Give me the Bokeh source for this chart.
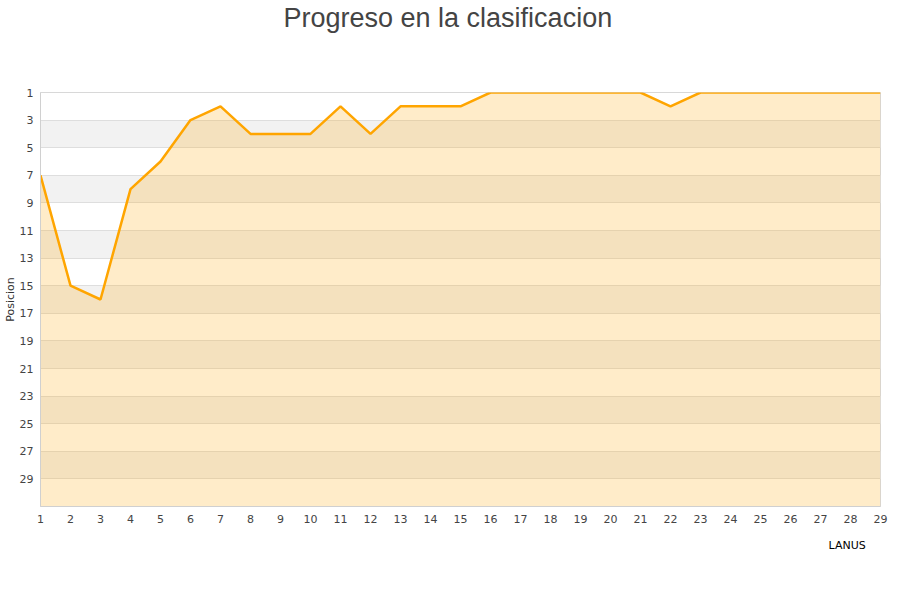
from bokeh.plotting import figure
from bokeh.models import Range1d, FixedTicker, ColumnDataSource, Title
from bokeh.embed import file_html
from bokeh.resources import INLINE

title_text = "Progreso en la clasificacion"
y_label = "Posicion"
team = "LANUS"
jornadas = list(range(1, 30))
posiciones = [7, 15, 16, 8, 6, 3, 2, 4, 4, 4, 2, 4, 2, 2, 2, 1, 1, 1, 1, 1, 1, 2, 1, 1, 1, 1, 1, 1, 1]
y_ticks = list(range(1, 30, 2))
x_ticks = list(range(1, 30))
y_top, y_bottom = 1, 31

p = figure(width=900, height=600, frame_width=840, frame_height=414,
           output_backend="svg", toolbar_location=None,
           x_range=Range1d(x_ticks[0], x_ticks[-1]), y_range=Range1d(y_bottom, y_top),
           min_border_left=40, min_border_right=20, min_border_top=86, min_border_bottom=100)

p.title.text = title_text + "\n\n"
p.title.align = "left"
p.title.offset = 243
p.title.standoff = 0
p.title.text_font = "Liberation Sans"
p.title.text_font_size = "27px"
p.title.text_font_style = "normal"
p.title.text_color = "#444444"

p.background_fill_color = "white"
p.border_fill_color = "white"
p.outline_line_color = "#d8d8d8"

# alternating bands (every other interval between ticks)
band_starts = y_ticks[1::2]
bands = ColumnDataSource(dict(bottom=[b + 2 for b in band_starts], top=band_starts))
p.quad(left=x_ticks[0], right=x_ticks[-1], bottom="bottom", top="top", source=bands,
       fill_color="#f2f2f2", line_color=None, level="image")

p.xgrid.grid_line_color = None
p.ygrid.grid_line_color = "#dedede"
p.ygrid.ticker = FixedTicker(ticks=y_ticks)

p.varea(x=jornadas, y1=posiciones, y2=y_bottom, fill_color="#ffa500", fill_alpha=0.21)
p.line(jornadas, posiciones, line_color="#ffa500", line_width=2.5)

for ax in (p.xaxis[0], p.yaxis[0]):
    ax.major_tick_line_color = None
    ax.minor_tick_line_color = None
    ax.major_tick_out = 0
    ax.major_tick_in = 0
    ax.minor_tick_out = 0
    ax.minor_tick_in = 0
    ax.axis_line_color = "#d0d0d0"
    ax.major_label_text_font = "DejaVu Sans"
    ax.major_label_text_font_size = "11px"
    ax.major_label_text_color = "#444444"

p.xaxis.ticker = FixedTicker(ticks=x_ticks)
p.yaxis.ticker = FixedTicker(ticks=y_ticks)
p.xaxis.major_label_standoff = 8
p.yaxis.major_label_standoff = 7
p.yaxis.axis_label = y_label
p.yaxis.axis_label_text_font = "DejaVu Sans"
p.yaxis.axis_label_text_font_size = "11px"
p.yaxis.axis_label_text_font_style = "normal"
p.yaxis.axis_label_text_color = "#333333"
p.yaxis.axis_label_standoff = 0

series_label = Title(text=team, align="left", offset=788, standoff=23,
                     text_font="DejaVu Sans", text_font_size="11px",
                     text_font_style="normal", text_color="#000000")
p.add_layout(series_label, "below")

open("out.html", "w").write(file_html(p, INLINE))
